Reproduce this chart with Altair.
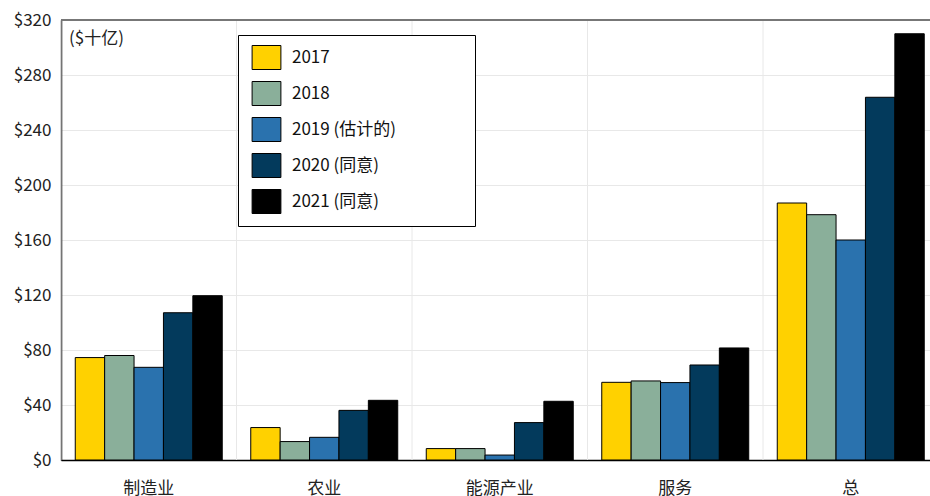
import altair as alt
import pandas as pd

# Sector categories along the x axis
categories = ["制造业", "农业", "能源产业", "服务", "总"]

# Series (one per year) and their values, in $ billions
years = ["2017", "2018", "2019 (估计的)", "2020 (同意)", "2021 (同意)"]
v2017 = [74.5, 23.6, 8.3, 56.5, 186.9]
v2018 = [76.0, 13.4, 8.3, 57.5, 178.4]
v2019 = [67.4, 16.5, 3.6, 56.3, 160.0]
v2020 = [107.1, 36.1, 27.2, 69.1, 263.8]
v2021 = [119.5, 43.4, 42.7, 81.5, 310.0]

colors = ["#FFD100", "#8AAF9A", "#2A72AE", "#033A5C", "#000000"]
y_ticks = [0, 40, 80, 120, 160, 200, 240, 280, 320]

FONT = "Noto Sans CJK SC"

rows = []
for year, vals in zip(years, [v2017, v2018, v2019, v2020, v2021]):
    for cat, v in zip(categories, vals):
        rows.append({"cat": cat, "year": year, "value": v})
df = pd.DataFrame(rows)
cat_df = pd.DataFrame({"cat": categories})
one_row = pd.DataFrame({"note": ["($十亿)"]})

x_scale = alt.Scale(domain=categories, range=[0, 877.5], paddingInner=0, paddingOuter=0)
x_axis = alt.Axis(
    title=None, labelAngle=0, ticks=False, grid=False,
    domainColor="black", domainWidth=1.5,
    labelFont=FONT, labelFontSize=17, labelColor="#222",
    labelAlign="center", labelBaseline="top", labelPadding=20,
)

bars = alt.Chart(df).mark_bar(stroke="black", strokeWidth=1).encode(
    x=alt.X("cat:N", sort=categories, scale=x_scale, axis=x_axis),
    xOffset=alt.XOffset(
        "year:N", sort=years,
        scale=alt.Scale(domain=years, paddingInner=0, paddingOuter=0.485),
    ),
    y=alt.Y(
        "value:Q",
        scale=alt.Scale(domain=[0, 320], nice=False),
        axis=alt.Axis(
            title=None, values=y_ticks, format="$.0f", ticks=False,
            domainColor="black", domainWidth=1.5,
            gridColor="#e8e8e8", gridWidth=1,
            labelFont=FONT, labelFontSize=17, labelColor="#222",
            labelPadding=10,
        ),
    ),
    color=alt.Color(
        "year:N",
        sort=years,
        scale=alt.Scale(domain=years, range=colors),
        legend=alt.Legend(
            title=None, orient="none", legendX=177, legendY=15,
            direction="vertical",
            fillColor="white", strokeColor="black", padding=10,
            symbolType="M-1.2,-1L1.2,-1L1.2,1L-1.2,1Z", symbolSize=576,
            symbolStrokeColor="black", symbolStrokeWidth=1, symbolOpacity=1,
            symbolOffset=6,
            labelFont=FONT, labelFontSize=17, labelColor="#111",
            labelOffset=13, rowPadding=7, labelLimit=400,
            # trailing em spaces widen the legend box
            labelExpr="datum.label + '\u2003\u2003\u2003\u2003\u200b'",
        ),
    ),
)

# vertical separators between sector groups
separators = alt.Chart(cat_df).mark_rule(color="#e8e8e8", strokeWidth=1).encode(
    x=alt.X("cat:N", sort=categories, scale=x_scale, bandPosition=0, axis=x_axis),
    y=alt.value(0),
    y2=alt.value(440),
)

# frame line along the top of the plot
top_line = alt.Chart(one_row).mark_rule(color="#777", strokeWidth=2).encode(
    y=alt.datum(320),
    x=alt.value(0),
    x2=alt.value(869),
)

unit_note = alt.Chart(one_row).mark_text(
    align="left", baseline="middle",
    font=FONT, fontSize=17, fontWeight="normal", color="#222",
).encode(text="note:N", x=alt.value(8), y=alt.value(19))

chart = alt.layer(separators, bars, top_line, unit_note).properties(
    width=869,
    height=440,
    autosize=alt.AutoSizeParams(type="none"),
    padding={"left": 61, "top": 20, "right": 0, "bottom": 36},
).configure_view(stroke=None).configure(background="white")

chart.save("out.html", embed_options={"renderer": "svg", "actions": False})
